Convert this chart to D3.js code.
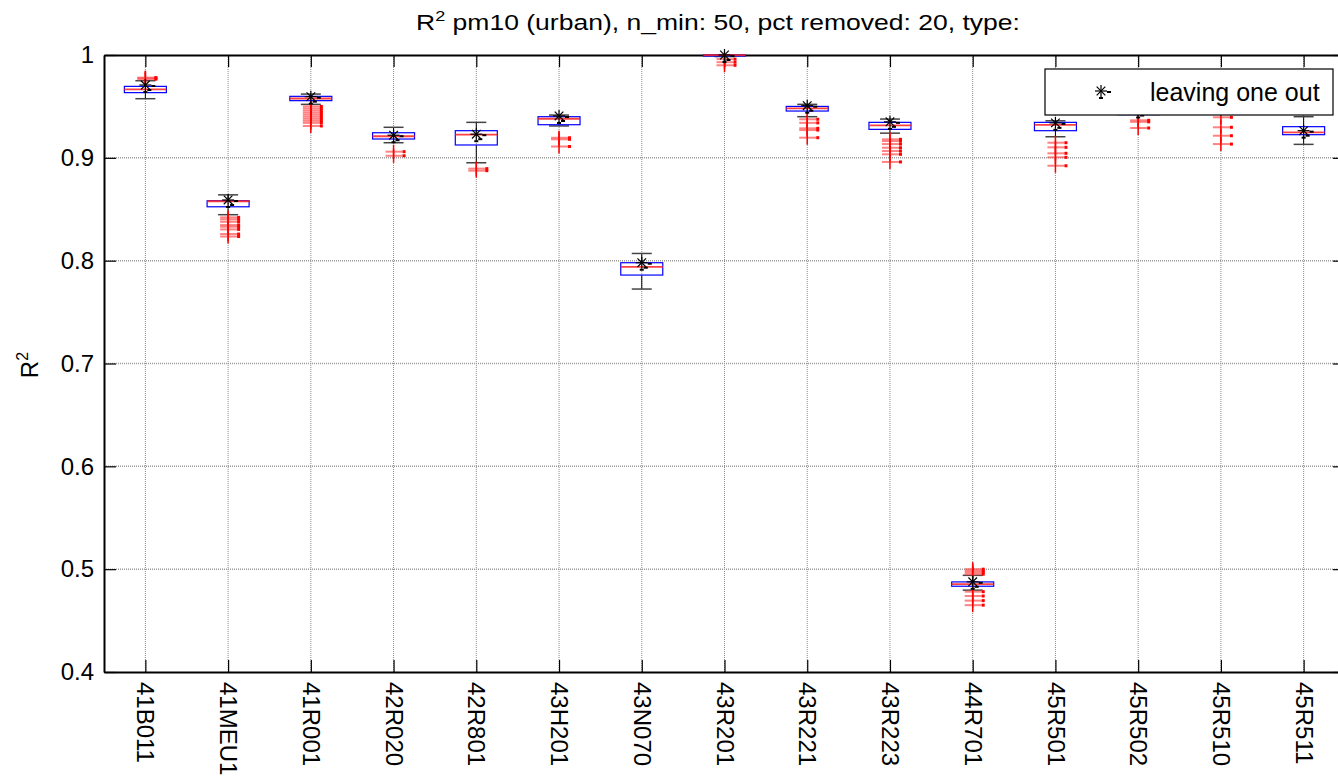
<!DOCTYPE html>
<html>
<head>
<meta charset="utf-8">
<script src="https://cdn.jsdelivr.net/npm/d3@7"></script>
<style>
  body { margin: 0; background: #fff; }
  svg { display: block; font-family: "Liberation Sans", Arial, sans-serif; }
</style>
</head>
<body>
<svg id="chart" width="1338" height="781"></svg>
<script>
// station names on the x axis
const stations = ['41B011', '41MEU1', '41R001', '42R020', '42R801', '43H201', '43N070', '43R201',
  '43R221', '43R223', '44R701', '45R501', '45R502', '45R510', '45R511'];

// box statistics per station
const q1 =     [0.9634, 0.8524, 0.9556, 0.9183, 0.9125, 0.9322, 0.786, 0.9995, 0.9455, 0.9277, 0.4834, 0.9264, 0.942, 0.950, 0.9225];
const median = [0.9666, 0.8578, 0.9577, 0.9210, 0.9225, 0.9380, 0.794, 0.9998, 0.9480, 0.9316, 0.4855, 0.9320, 0.945, 0.953, 0.9248];
const q3 =     [0.9695, 0.8583, 0.9598, 0.9244, 0.9264, 0.9400, 0.798, 1.0000, 0.9500, 0.9345, 0.4876, 0.9345, 0.947, 0.956, 0.9303];
const whiskerLo = [0.9575, 0.8447, 0.952, 0.9147, 0.8952, 0.931, 0.7724, 0.9985, 0.940, 0.924, 0.4796, 0.9205, 0.943, 0.945, 0.9131];
const whiskerHi = [0.9750, 0.8640, 0.962, 0.9297, 0.9345, 0.9416, 0.807, 1.0000, 0.952, 0.9377, 0.494, 0.936, 0.951, 0.961, 0.940];

// outliers (red +)
const outliers = [
  [0.9765, 0.9775, 0.978],
  [0.8421, 0.8402, 0.8378, 0.8346, 0.833, 0.8304, 0.8259, 0.8235],
  [0.950, 0.948, 0.946, 0.944, 0.942, 0.940, 0.938, 0.936, 0.934, 0.931],
  [0.906, 0.902],
  [0.8895, 0.8875],
  [0.9195, 0.918, 0.911],
  [],
  [0.996, 0.993, 0.990],
  [0.9375, 0.934, 0.9287, 0.927, 0.9196],
  [0.918, 0.9163, 0.9134, 0.9098, 0.9066, 0.9034, 0.896],
  [0.5000, 0.4984, 0.4968, 0.4951, 0.4781, 0.4739, 0.4694, 0.4650],
  [0.9147, 0.9102, 0.9044, 0.9005, 0.8923],
  [0.9365, 0.935, 0.929],
  [0.9394, 0.9297, 0.9215, 0.9134],
  []
];

// "leaving one out" values
const leaveOneOut = [0.9708, 0.859, 0.9595, 0.922, 0.923, 0.9407, 0.798, 1.0, 0.9507, 0.935, 0.4877, 0.934, 0.946, 0.954, 0.9264];

const yTicks = [0.4, 0.5, 0.6, 0.7, 0.8, 0.9, 1.0];
const yTickLabels = ['0.4', '0.5', '0.6', '0.7', '0.8', '0.9', '1'];

const svg = d3.select('#chart');
const pLeft = 104, pRight = 1345, pTop = 55, pBottom = 672;

const x = d3.scaleLinear().domain([0.5, stations.length + 0.5]).range([pLeft, pRight]);
const y = d3.scaleLinear().domain([0.4, 1]).range([pBottom, pTop]);
const idx = stations.map((_, i) => i + 1);

// grid
const grid = svg.append('g');
grid.selectAll('.vg').data(idx).enter().append('line')
  .attr('x1', d => x(d)).attr('x2', d => x(d))
  .attr('y1', pTop).attr('y2', pBottom)
  .attr('stroke', '#8a8a8a').attr('stroke-dasharray', '1,1');
grid.selectAll('.hg').data(yTicks.slice(1, -1)).enter().append('line')
  .attr('x1', pLeft).attr('x2', pRight)
  .attr('y1', d => y(d)).attr('y2', d => y(d))
  .attr('stroke', '#9a9a9a').attr('stroke-width', 1.5).attr('stroke-dasharray', '1,1');

// axes
const fmt = d => yTickLabels[yTicks.indexOf(d)];
const gl = svg.append('g').attr('transform', `translate(${pLeft},0)`)
  .call(d3.axisLeft(y).tickValues(yTicks).tickFormat(fmt).tickSizeInner(-12).tickSizeOuter(0).tickPadding(10));
const gr = svg.append('g').attr('transform', `translate(${pRight},0)`)
  .call(d3.axisRight(y).tickValues(yTicks).tickFormat('').tickSizeInner(-12).tickSizeOuter(0));
const gb = svg.append('g').attr('transform', `translate(0,${pBottom})`)
  .call(d3.axisBottom(x).tickValues(idx).tickFormat(d => stations[d - 1]).tickSizeInner(-12).tickSizeOuter(0));
const gt = svg.append('g').attr('transform', `translate(0,${pTop})`)
  .call(d3.axisTop(x).tickValues(idx).tickFormat('').tickSizeInner(-12).tickSizeOuter(0));

[gl, gr, gb, gt].forEach(g => {
  g.select('.domain').attr('stroke', '#000').attr('stroke-width', 2);
  g.selectAll('.tick line').attr('stroke', '#000').attr('stroke-width', 1.2);
});
// little end dashes on the ticks
gl.selectAll('.tick').append('rect').attr('x', 12).attr('y', -1).attr('width', 3).attr('height', 2);
gr.selectAll('.tick').append('rect').attr('x', -15).attr('y', -1).attr('width', 3).attr('height', 2);
gb.selectAll('.tick').append('rect').attr('x', 0).attr('y', -13).attr('width', 3).attr('height', 2);
gt.selectAll('.tick').append('rect').attr('x', 0).attr('y', 11).attr('width', 3).attr('height', 2);
gt.selectAll('.tick').append('rect').attr('x', 0).attr('y', 0).attr('width', 3).attr('height', 2);

gl.selectAll('.tick text').attr('font-size', 24).attr('fill', '#000')
  .attr('font-family', '"Liberation Sans", Arial, sans-serif');
gb.selectAll('.tick text')
  .attr('font-size', 24).attr('fill', '#000')
  .attr('font-family', '"Liberation Sans", Arial, sans-serif')
  .attr('text-anchor', 'start').attr('dy', '0.35em')
  .attr('transform', 'translate(0,10) rotate(90)').attr('y', 0).attr('x', 0);

// boxes
const bw = 42, cw = 20;
const boxes = svg.append('g');
idx.forEach((d, i) => {
  const cx = x(d);
  const g = boxes.append('g');
  // whiskers
  g.append('line').attr('x1', cx).attr('x2', cx).attr('y1', y(q3[i])).attr('y2', y(whiskerHi[i]))
    .attr('stroke', '#000');
  g.append('line').attr('x1', cx).attr('x2', cx).attr('y1', y(q1[i])).attr('y2', y(whiskerLo[i]))
    .attr('stroke', '#000');
  [whiskerLo[i], whiskerHi[i]].forEach(v => {
    g.append('line').attr('x1', cx - cw / 2).attr('x2', cx + cw / 2).attr('y1', y(v)).attr('y2', y(v))
      .attr('stroke', '#444').attr('stroke-width', 1.5);
  });
  // outliers
  outliers[i].forEach(v => {
    const cy = y(v);
    g.append('line').attr('x1', cx - 8).attr('x2', cx + 9).attr('y1', cy).attr('y2', cy)
      .attr('stroke', '#ff5a5a').attr('stroke-width', 2).attr('opacity', 0.75);
    g.append('line').attr('x1', cx).attr('x2', cx).attr('y1', cy - 7).attr('y2', cy + 7)
      .attr('stroke', '#ff0000').attr('stroke-width', 1.5);
    g.append('rect').attr('x', cx + 9).attr('y', cy - 1.5).attr('width', 3).attr('height', 3).attr('fill', '#ff0000');
  });
  // box
  g.append('rect').attr('x', cx - bw / 2).attr('y', y(q3[i]))
    .attr('width', bw).attr('height', Math.max(y(q1[i]) - y(q3[i]), 1))
    .attr('fill', 'none').attr('stroke', '#0000ff').attr('stroke-width', 1.2);
  g.append('line').attr('x1', cx - bw / 2).attr('x2', cx + bw / 2)
    .attr('y1', y(median[i])).attr('y2', y(median[i]))
    .attr('stroke', '#ff2020').attr('stroke-width', 1.8).attr('opacity', 0.85);
});

function asterisk(g, cx, cy) {
  const r = 6, r2 = 4.3;
  [[-r, 0, r, 0], [0, -r, 0, r], [-r2, -r2, r2, r2], [-r2, r2, r2, -r2]].forEach(p => {
    g.append('line').attr('x1', cx + p[0]).attr('y1', cy + p[1]).attr('x2', cx + p[2]).attr('y2', cy + p[3])
      .attr('stroke', '#000').attr('stroke-width', 1.2);
  });
  g.append('rect').attr('x', cx + 6).attr('y', cy).attr('width', 4).attr('height', 2).attr('fill', '#000');
  g.append('rect').attr('x', cx - 2).attr('y', cy + 6).attr('width', 4).attr('height', 2).attr('fill', '#000');
}

const loo = svg.append('g');
idx.forEach((d, i) => {
  asterisk(loo, x(d), y(leaveOneOut[i]));
  loo.append('rect').attr('x', x(d) + 2).attr('y', y(leaveOneOut[i]) + 4).attr('width', 4).attr('height', 2).attr('fill', '#000');
});

// legend
const lg = svg.append('g');
lg.append('rect').attr('x', 1045).attr('y', 69).attr('width', 288).attr('height', 46)
  .attr('fill', '#fff').attr('stroke', '#000').attr('stroke-width', 1.2);
asterisk(lg, 1101, 91);
lg.append('text').attr('x', 1150).attr('y', 101).attr('font-size', 25).text('leaving one out');

// y label
const yl = svg.append('text').attr('transform', 'translate(38,365) rotate(-90)')
  .attr('text-anchor', 'middle').attr('font-size', 24);
yl.append('tspan').text('R');
yl.append('tspan').attr('font-size', 16).attr('dy', -10).text('2');

// title
const title = svg.append('text').attr('x', 0).attr('y', 0).attr('font-size', 22);
title.append('tspan').text('R');
title.append('tspan').attr('font-size', 15).attr('dy', -9).text('2');
title.append('tspan').attr('dy', 9).text(' pm10 (urban), n_min: 50, pct removed: 20, type:');
const tw = title.node().getComputedTextLength();
const sx = 604 / tw;
title.attr('transform', `translate(416,30) scale(${sx},1)`);
</script>
</body>
</html>
